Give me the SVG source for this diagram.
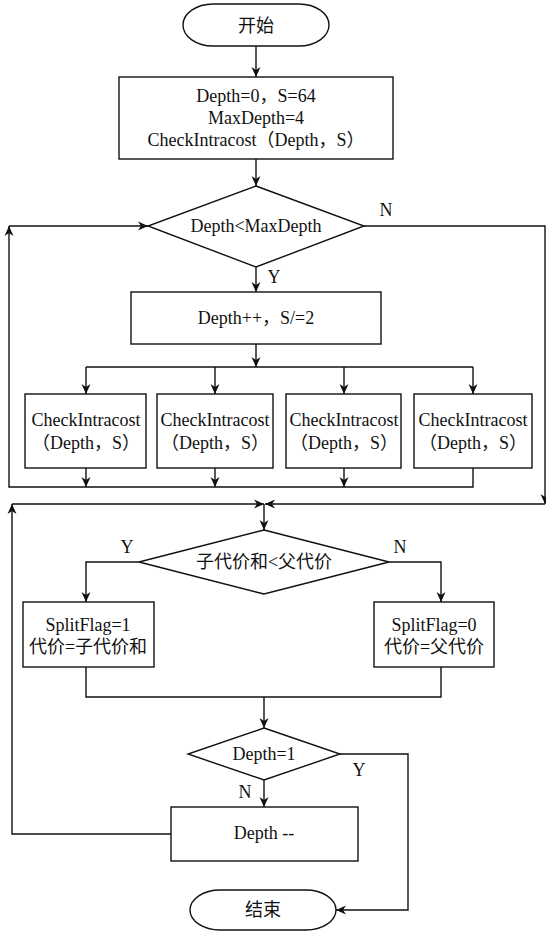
<svg xmlns="http://www.w3.org/2000/svg" width="546" height="931" viewBox="0 0 546 931">
<defs>
<marker id="ah" viewBox="0 0 10 10" refX="10" refY="5" markerWidth="10" markerHeight="10" markerUnits="userSpaceOnUse" orient="auto">
<path d="M0,0.5 L10,5 L0,9.5 L3,5 Z" fill="#111"/>
</marker>
<style>
.s{fill:#fff;stroke:#111;stroke-width:1.4}
.c{fill:none;stroke:#111;stroke-width:1.4}
.a{marker-end:url(#ah)}
text{font-family:"Liberation Serif","Noto Sans CJK SC",serif;font-size:18px;fill:#111;text-anchor:middle}
</style>
</defs>
<rect width="546" height="931" fill="#fff"/>
<g id="connectors">
<path class="c a" d="M256,46 V77"/>
<path class="c a" d="M256,159 V186"/>
<path class="c a" d="M256,267 V292"/>
<path class="c a" d="M256,344 V367"/>
<path class="c" d="M86,367 H473"/>
<path class="c a" d="M86,367 V394"/>
<path class="c a" d="M215,367 V394"/>
<path class="c a" d="M344,367 V394"/>
<path class="c a" d="M473,367 V394"/>
<path class="c a" d="M86,468 V487"/>
<path class="c a" d="M215,468 V487"/>
<path class="c a" d="M344,468 V487"/>
<path class="c a" d="M473,468 V487 H9 V226"/>
<path class="c a" d="M9,226 H148"/>
<path class="c a" d="M364,226 H545 V504"/>
<path class="c a" d="M545,504 H265"/>
<path class="c a" d="M171,834 H12 V504"/>
<path class="c a" d="M12,504 H264"/>
<path class="c a" d="M264,504 V530"/>
<path class="c a" d="M139,562 H86 V602"/>
<path class="c a" d="M389,562 H441 V602"/>
<path class="c" d="M86,667 V697 H441 V667"/>
<path class="c a" d="M264,697 V728"/>
<path class="c a" d="M264,780 V807"/>
<path class="c a" d="M340,754 H408 V910 H336"/>
<text x="386" y="216">N</text>
<text x="274" y="283">Y</text>
<text x="127" y="553">Y</text>
<text x="400" y="553">N</text>
<text x="359" y="776">Y</text>
<text x="245" y="798">N</text>
</g>
<g id="start">
<rect class="s" x="183" y="4" width="146" height="42" rx="30" ry="21"/>
<text x="256" y="32">开始</text>
</g>
<g id="init">
<rect class="s" x="119" y="77" width="274" height="82"/>
<text x="256" y="102">Depth=0，S=64</text>
<text x="256" y="124">MaxDepth=4</text>
<text x="256" y="146">CheckIntracost（Depth，S）</text>
</g>
<g id="cond1">
<polygon class="s" points="256,186 364,226 256,267 148,226"/>
<text x="256" y="232">Depth&lt;MaxDepth</text>
</g>
<g id="inc">
<rect class="s" x="131" y="292" width="250" height="52"/>
<text x="256" y="324">Depth++，S/=2</text>
</g>
<g id="check1">
<rect class="s" x="25" y="394" width="121" height="74"/>
<text x="86" y="426">CheckIntracost</text>
<text x="86" y="449">（Depth，S）</text>
</g>
<g id="check2">
<rect class="s" x="157" y="394" width="116" height="74"/>
<text x="215" y="426">CheckIntracost</text>
<text x="215" y="449">（Depth，S）</text>
</g>
<g id="check3">
<rect class="s" x="286" y="394" width="115" height="74"/>
<text x="344" y="426">CheckIntracost</text>
<text x="344" y="449">（Depth，S）</text>
</g>
<g id="check4">
<rect class="s" x="414" y="394" width="118" height="74"/>
<text x="473" y="426">CheckIntracost</text>
<text x="473" y="449">（Depth，S）</text>
</g>
<g id="cond2">
<polygon class="s" points="264,530 389,562 264,594 139,562"/>
<text x="264" y="568">子代价和&lt;父代价</text>
</g>
<g id="split1">
<rect class="s" x="23" y="602" width="131" height="65"/>
<text x="88" y="631">SplitFlag=1</text>
<text x="88" y="653">代价=子代价和</text>
</g>
<g id="split0">
<rect class="s" x="374" y="602" width="120" height="65"/>
<text x="434" y="631">SplitFlag=0</text>
<text x="434" y="653">代价=父代价</text>
</g>
<g id="cond3">
<polygon class="s" points="264,728 340,754 264,780 188,754"/>
<text x="264" y="760">Depth=1</text>
</g>
<g id="dec">
<rect class="s" x="171" y="807" width="187" height="54"/>
<text x="264" y="839">Depth --</text>
</g>
<g id="end">
<rect class="s" x="190" y="890" width="146" height="40" rx="30" ry="20"/>
<text x="263" y="916">结束</text>
</g>
</svg>
